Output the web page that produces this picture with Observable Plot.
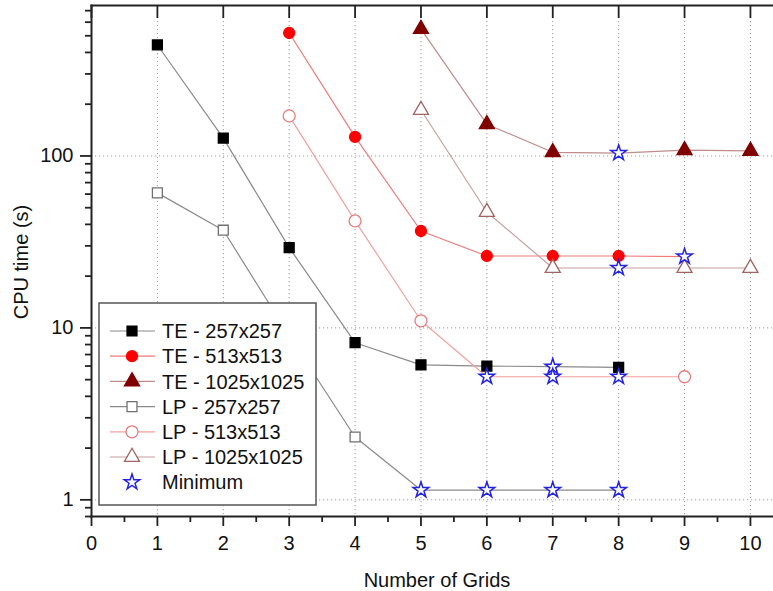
<!DOCTYPE html>
<html><head><meta charset="utf-8">
<script src="https://cdn.jsdelivr.net/npm/d3@7"></script>
<script src="https://cdn.jsdelivr.net/npm/@observablehq/plot@0.6"></script>
<style>
body{margin:0;background:#fff}
#chart{position:relative;width:773px;height:591px;font-family:"Liberation Sans",Arial,sans-serif}
#chart svg{display:block}
</style>
</head><body><div id="chart"></div>
<script>
// ---- data ----
const seriesNames = ["TE - 257x257","TE - 513x513","TE - 1025x1025","LP - 257x257","LP - 513x513","LP - 1025x1025"];
const te257Grids = [1,2,3,4,5,6,7,8];
const te257Time  = [442,127,29.3,8.2,6.1,6.0,5.95,5.9];
const te513Grids = [3,4,5,6,7,8,9];
const te513Time  = [519,129,36.6,26.2,26.2,26.2,26.0];
const te1025Grids = [5,6,7,8,9,10];
const te1025Time  = [547,153,105,104,108,107];
const lp257Grids = [1,2,3,4,5,6,7,8];
const lp257Time  = [61,37,9.0,2.32,1.14,1.14,1.14,1.14];
const lp513Grids = [3,4,5,6,7,8,9];
const lp513Time  = [171,41.9,11.0,5.2,5.2,5.2,5.2];
const lp1025Grids = [5,6,7,8,9,10];
const lp1025Time  = [185,47.2,22.3,22.3,22.3,22.3];
// minimum points: series index + grid
const minSeries = [3,3,3,3,0,4,4,4,5,1,2];
const minGrids  = [5,6,7,8,7,6,7,8,8,9,8];
const xMajor = [0,1,2,3,4,5,6,7,8,9,10];
const xMinor = [0.5,1.5,2.5,3.5,4.5,5.5,6.5,7.5,8.5,9.5];
const yMajor = [1,10,100];
const yMinor = [0.8,0.9,2,3,4,5,6,7,8,9,20,30,40,50,60,70,80,90,200,300,400,500,600,700];

// ---- styles ----
const gridsList = [te257Grids,te513Grids,te1025Grids,lp257Grids,lp513Grids,lp1025Grids];
const timeList  = [te257Time,te513Time,te1025Time,lp257Time,lp513Time,lp1025Time];
const styles = [
  {line:"#8a8a8a", symbol:"square",   fill:"#000000", stroke:"#000000", r:5.6},
  {line:"#f07a7a", symbol:"circle",   fill:"#ff0000", stroke:"#ff0000", r:5.5},
  {line:"#bf8c8c", symbol:"triangle", fill:"#800000", stroke:"#800000", r:5.6},
  {line:"#8a8a8a", symbol:"square",   fill:"#ffffff", stroke:"#707070", r:5.6},
  {line:"#f2a0a0", symbol:"circle",   fill:"#ffffff", stroke:"#e67c7c", r:6},
  {line:"#c4a0a0", symbol:"triangle", fill:"#ffffff", stroke:"#a06464", r:5.6}
];
const starStyle = {stroke:"#2424e0", fill:"#ffffff", r:4.9};

const rows = seriesNames.map((name, i) => gridsList[i].map((g, j) => ({
  series: i, name, grid: g, time: timeList[i][j],
  isMin: minSeries.some((s, k) => s === i && minGrids[k] === g)
})));
const minRows = minSeries.map((s, k) => rows[s].find(d => d.grid === minGrids[k]));

const lineMarks = rows.map((data, i) => Plot.line(data, {x:"grid", y:"time", stroke: styles[i].line, strokeWidth:1.2}));
const dotMarks = rows.map((data, i) => Plot.dot(data.filter(d => !d.isMin), {
  x:"grid", y:"time", symbol: styles[i].symbol, r: styles[i].r,
  fill: styles[i].fill, stroke: styles[i].stroke, strokeWidth:1.3
}));

const axisColor = "#222";
const plot = Plot.plot({
  width: 773, height: 591,
  marginLeft: 91, marginRight: 0, marginTop: 5, marginBottom: 75,
  x: {domain: [0, 10.35]},
  y: {type: "log", domain: [0.8, 750]},
  style: {fontFamily: '"Liberation Sans", Arial, sans-serif', fontSize: "20px", color: "#111", background: "#fff"},
  marks: [
    Plot.gridX(xMajor.slice(1), {stroke:"#9a9a9a", strokeOpacity:1, strokeDasharray:"1.2,2.8", strokeWidth:1}),
    Plot.gridY(yMajor, {stroke:"#9a9a9a", strokeOpacity:1, strokeDasharray:"1.2,2.8", strokeWidth:1}),
    ...lineMarks,
    ...dotMarks,
    Plot.dot(minRows, {x:"grid", y:"time", symbol:"star", r: starStyle.r, fill: starStyle.fill, stroke: starStyle.stroke, strokeWidth:1.5}),
    Plot.frame({anchor:"left", stroke: axisColor, strokeWidth:2}),
    Plot.frame({anchor:"bottom", stroke: axisColor, strokeWidth:2}),
    Plot.frame({anchor:"top", stroke: axisColor, strokeWidth:2}),
    Plot.axisX(xMajor, {anchor:"bottom", tickSize:10, tickPadding:9, label:null, stroke: axisColor, strokeWidth:1.8, tickFormat: d => String(d)}),
    Plot.axisX(xMinor, {anchor:"bottom", tickSize:6, text:null, label:null, stroke: axisColor, strokeWidth:1.8}),
    Plot.tickX(xMajor, {x: d => d, insetBottom: 498, stroke: axisColor, strokeWidth:1.8}),
    Plot.axisY(yMajor, {anchor:"left", tickSize:11, tickPadding:7, label:null, stroke: axisColor, strokeWidth:1.8, tickFormat: d => String(d)}),
    Plot.axisY(yMinor, {anchor:"left", tickSize:6, text:null, label:null, stroke: axisColor, strokeWidth:1.8})
  ]
});
const chart = document.getElementById("chart");
chart.appendChild(plot);

// axis titles
const svg = d3.select(plot);
svg.append("text").attr("x", 437).attr("y", 587).attr("text-anchor","middle")
  .attr("font-size", 20).attr("fill", "#111").text("Number of Grids");
svg.append("text").attr("transform", "translate(28,262) rotate(-90)").attr("text-anchor","middle")
  .attr("font-size", 20).attr("fill", "#111").text("CPU time (s)");

// legend
const legendLabels = [...seriesNames, "Minimum"];
const leg = d3.select(chart).append("svg")
  .attr("width", 220).attr("height", 205)
  .style("position","absolute").style("left","98px").style("top","302px");
leg.append("rect").attr("x",1).attr("y",1).attr("width",217).attr("height",202)
  .attr("fill","#fff").attr("stroke","#555").attr("stroke-width",1.5);
const symType = {square: d3.symbolSquare, circle: d3.symbolCircle, triangle: d3.symbolTriangle, star: d3.symbolStar};
legendLabels.forEach((label, i) => {
  const y = 29 + i * 25.2;
  const st = i < 6 ? styles[i] : {symbol:"star", fill: starStyle.fill, stroke: starStyle.stroke, r: starStyle.r};
  const g = leg.append("g");
  if (i < 6) g.append("line").attr("x1",12).attr("x2",57).attr("y1",y).attr("y2",y).attr("stroke", st.line).attr("stroke-width",1.2);
  g.append("path").attr("transform", `translate(34,${y})`)
    .attr("d", d3.symbol(symType[st.symbol], st.r * st.r * Math.PI)())
    .attr("fill", st.fill).attr("stroke", st.stroke).attr("stroke-width", i < 6 ? 1.3 : 1.5);
  g.append("text").attr("x", 64).attr("y", y).attr("dy","0.36em")
    .attr("font-size", 20).attr("fill","#111").text(label);
});
</script>
</body></html>
